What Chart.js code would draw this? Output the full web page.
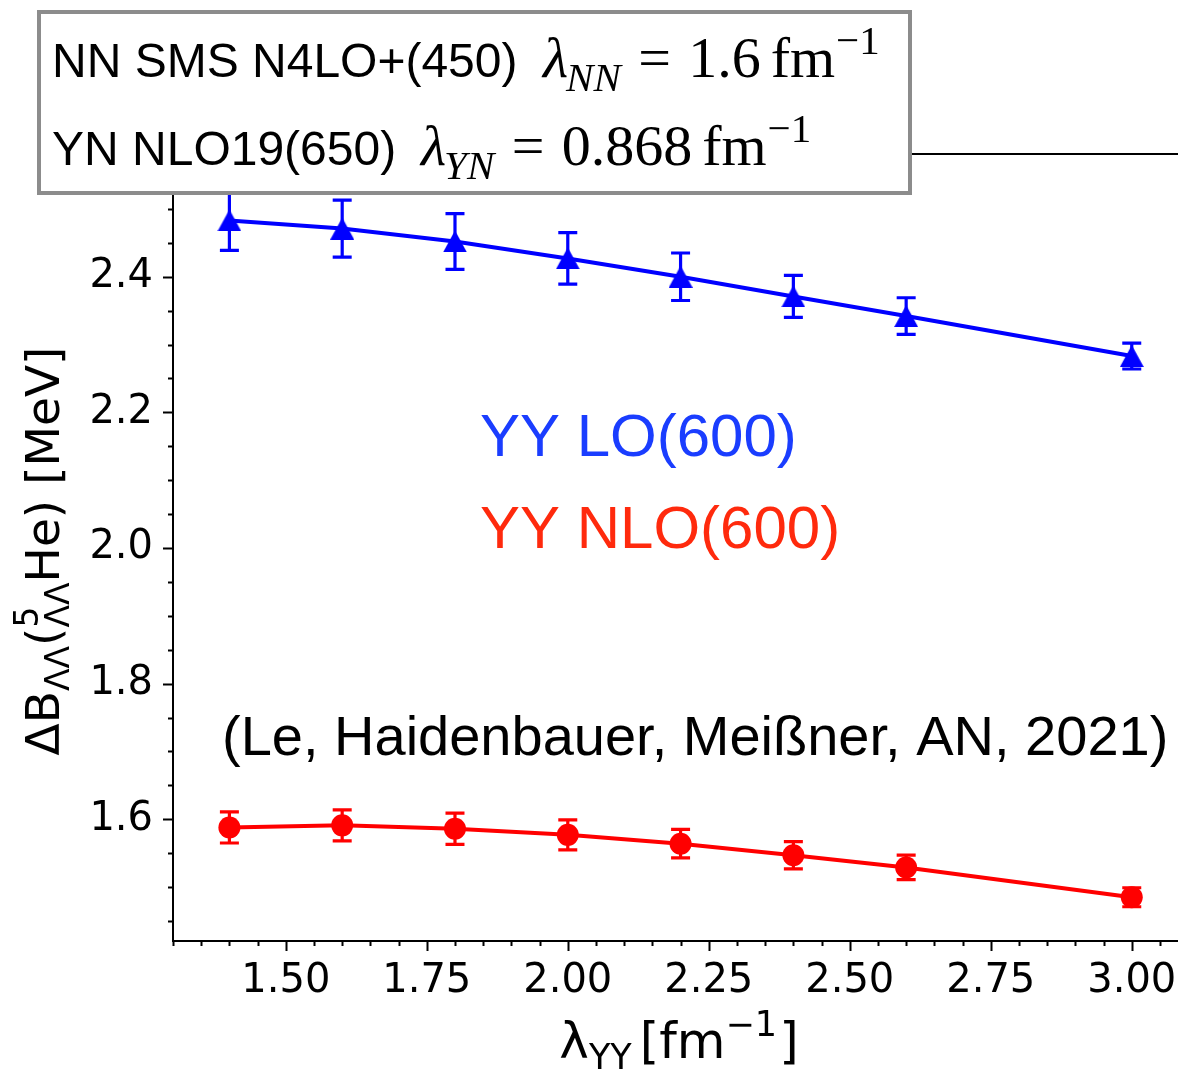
<!DOCTYPE html>
<html>
<head>
<meta charset="utf-8">
<script src="https://cdn.jsdelivr.net/npm/chart.js@4.4.0/dist/chart.umd.min.js"></script>
<style>
  html, body { margin: 0; padding: 0; background: #fff; overflow: hidden; }
  #wrap { width: 1178px; height: 1070px; position: relative; }
</style>
</head>
<body>
<div id="wrap"><canvas id="c" width="1178" height="1070"></canvas></div>
<script>
// YY cutoff values (fm^-1)
const lambdaYY = [1.4, 1.6, 1.8, 2.0, 2.2, 2.4, 2.6, 3.0];
// Delta B_LL of 5_LL He (MeV), YY LO(600) and YY NLO(600)
const loValues  = [2.483, 2.471, 2.452, 2.427, 2.400, 2.371, 2.342, 2.283];
const loErrors  = [0.044, 0.042, 0.041, 0.038, 0.035, 0.031, 0.027, 0.019];
const nloValues = [1.588, 1.591, 1.586, 1.577, 1.564, 1.547, 1.529, 1.485];
const nloErrors = [0.023, 0.023, 0.023, 0.022, 0.021, 0.020, 0.018, 0.014];
// axis tick labels
const xTickValues = [1.5, 1.75, 2.0, 2.25, 2.5, 2.75, 3.0];
const yTickValues = [1.6, 1.8, 2.0, 2.2, 2.4];
const seriesNames = ['YY LO(600)', 'YY NLO(600)'];
const citation = '(Le, Haidenbauer, Meißner, AN, 2021)';

const BLUE = '#0000ff';
const RED = '#ff0000';

// matplotlib-style "^" marker: apex up, centred on its bounding box
function triangleMarker(color, w, h) {
  const c = document.createElement('canvas');
  c.width = w; c.height = h;
  const g = c.getContext('2d');
  g.fillStyle = color;
  g.beginPath();
  g.moveTo(w / 2, 0);
  g.lineTo(w, h);
  g.lineTo(0, h);
  g.closePath();
  g.fill();
  return c;
}

function toPoints(xs, ys, es) {
  return xs.map((x, i) => ({ x: x, y: ys[i], err: es[i] }));
}

// vertical error bars with caps, drawn beneath the lines and markers
const errorBars = {
  id: 'errorBars',
  beforeDatasetsDraw(chart) {
    const { ctx, chartArea: a, scales: { x, y } } = chart;
    ctx.save();
    ctx.beginPath();
    ctx.rect(a.left, a.top, a.right - a.left, a.bottom - a.top);
    ctx.clip();
    chart.data.datasets.forEach(ds => {
      ctx.strokeStyle = ds.borderColor;
      ctx.lineWidth = 3.2;
      ds.data.forEach(p => {
        const px = x.getPixelForValue(p.x);
        const top = y.getPixelForValue(p.y + p.err);
        const bot = y.getPixelForValue(p.y - p.err);
        ctx.beginPath();
        ctx.moveTo(px, top); ctx.lineTo(px, bot);
        ctx.moveTo(px - 9.5, top); ctx.lineTo(px + 9.5, top);
        ctx.moveTo(px - 9.5, bot); ctx.lineTo(px + 9.5, bot);
        ctx.stroke();
      });
    });
    ctx.restore();
  }
};

// a run of text pieces {t, f, dy, gap}, laid out left to right from x on a baseline
function measureRun(ctx, pieces) {
  let w = 0;
  pieces.forEach(p => {
    if (p.stack) {
      let m = 0;
      p.stack.forEach(s => { ctx.font = s.f; m = Math.max(m, ctx.measureText(s.t).width); });
      w += m + (p.gap || 0);
    } else {
      ctx.font = p.f;
      w += ctx.measureText(p.t).width + (p.gap || 0);
    }
  });
  return w;
}
function drawRun(ctx, pieces, x, base) {
  ctx.textAlign = 'left';
  ctx.textBaseline = 'alphabetic';
  pieces.forEach(p => {
    x += (p.gap || 0);
    if (p.stack) {
      let m = 0;
      p.stack.forEach(s => {
        ctx.font = s.f;
        ctx.fillText(s.t, x, base + s.dy);
        m = Math.max(m, ctx.measureText(s.t).width);
      });
      x += m;
    } else {
      ctx.font = p.f;
      ctx.fillText(p.t, x, base + (p.dy || 0));
      x += ctx.measureText(p.t).width;
    }
  });
}

// lambda_{sub} = value fm^{-1} in a Times-like math face
function mathRun(sub, value) {
  const S = 58, s = Math.round(S * 0.7);
  const serif = '"Liberation Serif", "Times New Roman", serif';
  return [
    { t: 'λ', f: `italic ${S}px ${serif}` },
    { t: sub, f: `italic ${s}px ${serif}`, dy: 0.24 * S, gap: -2 },
    { t: '=', f: `${S}px ${serif}`, gap: 0.3 * S },
    { t: value, f: `${S}px ${serif}`, gap: 0.3 * S },
    { t: 'fm', f: `${S}px ${serif}`, gap: 0.17 * S },
    { t: '−1', f: `${s}px ${serif}`, dy: -0.4 * S, gap: 1 }
  ];
}

const decorations = {
  id: 'decorations',
  afterDraw(chart) {
    const { ctx, chartArea: a, scales: { x, y } } = chart;
    ctx.save();
    ctx.strokeStyle = '#000';
    ctx.lineWidth = 2;

    // tick marks: major every 0.25 / 0.2, minor every 0.05
    ctx.beginPath();
    for (let k = 26; k <= 61; k++) {
      const v = k * 0.05;
      const px = Math.round(x.getPixelForValue(v)) + 0.5;
      if (px > a.right) continue;
      const len = (k % 5 === 0) ? 10 : 5;
      ctx.moveTo(px, a.bottom); ctx.lineTo(px, a.bottom + len);
    }
    for (let k = 29; k <= 51; k++) {
      const v = k * 0.05;
      const py = Math.round(y.getPixelForValue(v)) + 0.5;
      const len = (k % 4 === 0) ? 10 : 5;
      ctx.moveTo(a.left, py); ctx.lineTo(a.left - len, py);
    }
    ctx.stroke();

    // top spine
    ctx.beginPath();
    ctx.moveTo(a.left - 1, a.top);
    ctx.lineTo(a.right, a.top);
    ctx.stroke();

    // series labels and citation
    ctx.textAlign = 'left';
    ctx.textBaseline = 'alphabetic';
    ctx.font = '60px "Liberation Sans", Arial, sans-serif';
    ctx.fillStyle = '#1a3dff';
    ctx.fillText(seriesNames[0], 480, 456);
    ctx.fillStyle = '#ff2a0d';
    ctx.fillText(seriesNames[1], 480, 548);
    ctx.fillStyle = '#000';
    ctx.font = '56px "Liberation Sans", Arial, sans-serif';
    ctx.fillText(citation, 222, 755);

    // x-axis title: lambda_YY [fm^-1]
    const dj = '"DejaVu Sans", sans-serif';
    const XF = 50;
    const xt = [
      { t: 'λ', f: `${XF}px ${dj}` },
      { t: 'YY', f: `${Math.round(XF * 0.7)}px ${dj}`, dy: 0.22 * XF },
      { t: '[fm', f: `${XF}px ${dj}`, gap: 0.16 * XF },
      { t: '−1', f: `${Math.round(XF * 0.7)}px ${dj}`, dy: -0.45 * XF },
      { t: ']', f: `${XF}px ${dj}`, gap: 0.04 * XF }
    ];
    const xw = measureRun(ctx, xt);
    drawRun(ctx, xt, 679 - xw / 2, 1058);

    // y-axis title: Delta B_LL(^5_LL He) [MeV], rotated
    const YF = 47;
    const sm = `${Math.round(YF * 0.7)}px ${dj}`;
    const bg = `${YF}px ${dj}`;
    const yt = [
      { t: 'ΔB', f: bg },
      { t: 'ΛΛ', f: sm, dy: 0.22 * YF },
      { t: '(', f: bg },
      { stack: [ { t: '5', f: sm, dy: -0.45 * YF }, { t: 'ΛΛ', f: sm, dy: 0.22 * YF } ] },
      { t: 'He) [MeV]', f: bg }
    ];
    const yw = measureRun(ctx, yt);
    ctx.save();
    ctx.translate(42, 551);
    ctx.rotate(-Math.PI / 2);
    drawRun(ctx, yt, -yw / 2, 0.36 * YF);
    ctx.restore();

    // parameter box in the upper left
    ctx.fillStyle = '#fff';
    ctx.fillRect(37, 10, 875, 185);
    ctx.strokeStyle = '#8c8c8c';
    ctx.lineWidth = 4;
    ctx.strokeRect(39, 12, 871, 181);

    ctx.fillStyle = '#000';
    ctx.font = '48px "Liberation Sans", Arial, sans-serif';
    ctx.fillText('NN SMS N4LO+(450)', 52, 77);
    ctx.fillText('YN NLO19(650)', 52, 165);
    drawRun(ctx, mathRun('NN', '1.6'), 543, 77);
    drawRun(ctx, mathRun('YN', '0.868'), 421, 165);

    ctx.restore();
  }
};

// keep the plot area flush with the right edge of the canvas
function noSidePadding(s) {
  s.paddingLeft = 0;
  s.paddingRight = 0;
}

new Chart(document.getElementById('c'), {
  type: 'line',
  data: {
    datasets: [
      {
        label: seriesNames[0],
        data: toPoints(lambdaYY, loValues, loErrors),
        borderColor: BLUE,
        backgroundColor: BLUE,
        borderWidth: 4,
        pointStyle: triangleMarker(BLUE, 24, 22),
        pointRadius: 12,
        tension: 0
      },
      {
        label: seriesNames[1],
        data: toPoints(lambdaYY, nloValues, nloErrors),
        borderColor: RED,
        backgroundColor: RED,
        borderWidth: 4,
        pointStyle: 'circle',
        pointRadius: 11,
        pointBorderWidth: 0,
        tension: 0
      }
    ]
  },
  options: {
    responsive: false,
    animation: false,
    events: [],
    layout: { autoPadding: false, padding: { top: 154, left: 0, right: 0, bottom: 0 } },
    plugins: { legend: { display: false }, tooltip: { enabled: false } },
    scales: {
      x: {
        type: 'linear',
        min: 1.3,
        max: 3.082,
        afterBuildTicks: s => { s.ticks = xTickValues.map(v => ({ value: v })); },
        afterFit: s => { s.height = 129; noSidePadding(s); },
        afterUpdate: noSidePadding,
        ticks: {
          callback: v => Number(v).toFixed(2),
          font: { family: 'DejaVu Sans', size: 40, lineHeight: 2.05 },
          color: '#000',
          padding: 0,
          maxRotation: 0,
          autoSkip: false
        },
        grid: { display: false, drawTicks: false },
        border: { display: true, color: '#000', width: 2 }
      },
      y: {
        type: 'linear',
        min: 1.4205,
        max: 2.581,
        afterBuildTicks: s => { s.ticks = yTickValues.map(v => ({ value: v })); },
        afterFit: s => { s.width = 173; s.paddingTop = 0; s.paddingBottom = 0; },
        ticks: {
          callback: v => Number(v).toFixed(1),
          font: { family: 'DejaVu Sans', size: 40 },
          color: '#000',
          padding: 20,
          autoSkip: false
        },
        grid: { display: false, drawTicks: false },
        border: { display: true, color: '#000', width: 2 }
      }
    }
  },
  plugins: [errorBars, decorations]
});
</script>
</body>
</html>
